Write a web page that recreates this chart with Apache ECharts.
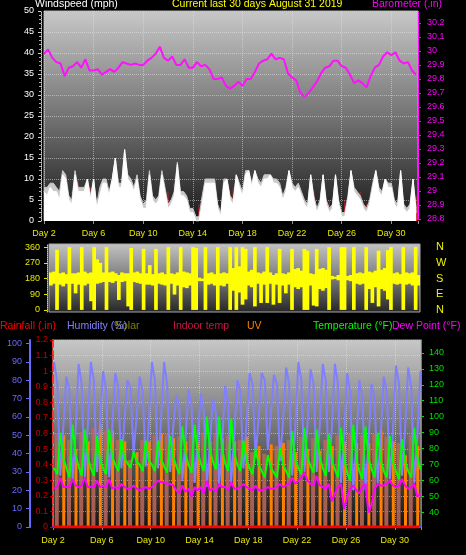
<!DOCTYPE html>
<html>
<head>
<meta charset="utf-8">
<script src="https://cdn.jsdelivr.net/npm/echarts@6/dist/echarts.min.js"></script>
<style>
html, body { margin: 0; padding: 0; background: #000; }
#main { width: 466px; height: 555px; }
</style>
</head>
<body>
<div id="main"></div>
<script>
// wind speed, mph, one sample every 6 hours from Day 2
var windGust = [8, 8, 9, 9, 8, 7, 12, 11, 6, 5,
    12, 8, 8, 8, 10, 6, 10, 4, 8, 10,
    10, 7, 10, 15, 9, 9, 17, 11, 10, 8,
    11, 6, 4, 5, 12, 6, 5, 6, 12, 8,
    4, 5, 7, 14, 7, 7, 6, 3, 3, 1,
    1, 6, 10, 10, 10, 10, 4, 2, 10, 10,
    6, 5, 11, 9, 7, 12, 12, 9, 12, 10,
    9, 11, 11, 11, 10, 10, 9, 6, 8, 12,
    9, 8, 9, 7, 5, 4, 11, 6, 3, 5,
    11, 5, 3, 4, 11, 5, 2, 2, 6, 12,
    8, 7, 6, 4, 3, 5, 9, 12, 8, 7,
    10, 9, 9, 5, 4, 12, 4, 3, 4, 10, 3];
var windSpeed = [7, 6, 8, 7, 7, 5, 11, 10, 5, 4,
    11, 7, 7, 7, 10, 5, 10, 3, 6, 9,
    9, 6, 10, 15, 8, 8, 17, 10, 9, 7,
    10, 5, 3, 3, 11, 5, 4, 5, 11, 7,
    3, 4, 6, 13.5, 6, 6, 5, 2, 2, 0,
    0, 4, 9, 9, 9, 9, 3, 1, 9, 10,
    5, 4, 11, 8, 6, 11, 12, 8, 12, 9,
    8, 10, 10, 11, 9, 9, 8, 5, 7, 12,
    8, 7, 8, 6, 4, 3, 11, 5, 2, 4,
    11, 4, 2, 3, 11, 4, 1, 1, 5, 12,
    7, 6, 5, 3, 2, 4, 8, 12, 7, 6,
    10, 8, 8, 4, 3, 12, 3, 2, 3, 10, 2];
var windLow = [3, 0, 5, 0, 0, 7, 4, 0, 0, 7,
    0, 9, 0, 0, 5, 8, 0, 0, 0, 4,
    7, 0, 0, 8, 5, 0, 0, 7, 0, 3,
    0, 0, 0, 0, 10, 0, 6, 0, 5, 0,
    7, 0, 9, 0, 3, 0, 0, 0, 0, 0,
    4, 0, 0, 6, 0, 7, 0, 0, 6, 0,
    0, 8, 0, 0, 3, 0, 0, 6, 0, 0,
    0, 7, 8, 10, 0, 5, 0, 0, 8, 0,
    0, 0, 0, 6, 0, 0, 0, 7, 0, 0,
    0, 0, 5, 0, 6, 0, 0, 5, 0, 9,
    4, 0, 7, 0, 4, 0, 0, 6, 0, 5,
    0, 0, 7, 0, 0, 5, 0, 3, 0, 0, 6];
// barometer, inches, one sample every 8 hours from Day 2
var barometer = [29.98, 30.01, 29.95, 29.92, 29.91, 29.82, 29.88, 29.89, 29.92, 29.88,
    29.94, 29.86, 29.86, 29.87, 29.83, 29.85, 29.87, 29.85, 29.88, 29.92,
    29.91, 29.90, 29.91, 29.90, 29.90, 29.93, 29.95, 29.98, 30.03, 29.95,
    29.93, 29.96, 29.90, 29.90, 29.94, 29.88, 29.88, 29.92, 29.89, 29.90,
    29.87, 29.80, 29.80, 29.81, 29.75, 29.73, 29.75, 29.78, 29.75, 29.80,
    29.80, 29.85, 29.91, 29.93, 29.94, 29.98, 29.94, 29.95, 29.94, 29.84,
    29.81, 29.79, 29.70, 29.67, 29.70, 29.74, 29.78, 29.84, 29.88, 29.89,
    29.93, 29.93, 29.89, 29.88, 29.83, 29.77, 29.79, 29.77, 29.74, 29.82,
    29.88, 29.90, 29.96, 29.99, 29.97, 29.99, 29.93, 29.91, 29.92, 29.86, 29.83];
// wind direction, degrees, low and high of each 6 hour bin from Day 2
var dirLow = [140, 150, 0, 145, 135, 150, 0, 150, 95, 145,
    0, 140, 150, 50, 0, 150, 155, 160, 0, 160,
    155, 165, 57, 160, 165, 20, 0, 160, 155, 150,
    0, 145, 145, 140, 0, 150, 145, 140, 0, 150,
    88, 140, 0, 130, 125, 140, 0, 0, 165, 165,
    0, 145, 150, 140, 0, 140, 135, 150, 0, 110,
    0, 100, 30, 60, 140, 130, 20, 150, 40, 145,
    40, 150, 30, 145, 40, 140, 95, 145, 0, 130,
    120, 130, 0, 0, 140, 25, 20, 120, 110, 125,
    0, 175, 178, 170, 0, 0, 170, 165, 0, 150,
    145, 150, 0, 120, 40, 130, 20, 120, 110, 60,
    0, 150, 145, 150, 0, 145, 150, 140, 0, 140];
var dirHigh = [215, 220, 345, 210, 215, 205, 360, 210, 210, 215,
    360, 220, 210, 215, 360, 290, 270, 215, 360, 215,
    220, 210, 200, 215, 210, 210, 355, 215, 220, 210,
    350, 210, 257, 205, 350, 210, 215, 205, 360, 210,
    205, 215, 360, 220, 215, 210, 360, 355, 185, 180,
    360, 210, 215, 205, 360, 210, 215, 210, 360, 240,
    360, 250, 360, 350, 220, 230, 360, 215, 210, 220,
    360, 215, 200, 210, 350, 210, 205, 215, 350, 235,
    240, 225, 350, 340, 210, 205, 350, 235, 240, 230,
    360, 195, 190, 200, 360, 360, 195, 200, 360, 210,
    215, 210, 360, 220, 215, 225, 340, 230, 240, 343,
    360, 210, 215, 205, 360, 215, 210, 215, 360, 200];
// lower panel, one sample every 6 hours from Day 2.1
var humidity = [90, 78, 28, 55, 82, 74, 25, 52, 89, 78, 27, 55, 90, 80, 30, 56,
    85, 75, 27, 54, 84, 76, 32, 58, 80, 76, 40, 60, 82, 74, 33, 57,
    90, 80, 32, 58, 90, 78, 30, 55, 72, 65, 25, 48, 75, 66, 24, 47,
    73, 64, 22, 45, 70, 62, 22, 45, 77, 68, 24, 50, 80, 74, 32, 56,
    84, 78, 38, 60, 84, 80, 42, 62, 83, 78, 36, 58, 87, 78, 28, 54,
    90, 80, 30, 56, 86, 78, 30, 55, 89, 80, 30, 55, 89, 78, 24, 50,
    84, 74, 20, 46, 80, 70, 20, 46, 78, 70, 24, 50, 82, 74, 26, 52,
    88, 78, 28, 54, 87, 76, 24, 50, 85];
var temperature = [68, 64, 90, 74, 68, 62, 95, 76, 69, 63, 92, 75, 68, 63, 88, 73,
    68, 64, 92, 75, 70, 66, 86, 74, 71, 68, 78, 72, 70, 66, 85, 73,
    70, 66, 85, 74, 69, 65, 88, 75, 69, 64, 94, 77, 70, 65, 95, 78,
    71, 66, 100, 80, 72, 67, 100, 80, 71, 66, 99, 78, 70, 66, 85, 73,
    68, 64, 80, 70, 66, 62, 76, 68, 65, 62, 81, 70, 66, 62, 91, 73,
    68, 64, 93, 75, 69, 65, 92, 75, 68, 63, 89, 73, 67, 62, 93, 74,
    65, 60, 95, 74, 66, 61, 94, 74, 67, 62, 90, 73, 66, 62, 88, 72,
    66, 61, 86, 72, 66, 62, 93, 75, 67];
var dewPoint = [55, 56, 62, 56, 56, 56, 61, 57, 56, 57, 62, 56, 56, 56, 60, 56,
    57, 56, 61, 55, 56, 55, 58, 56, 55, 55, 57, 55, 54, 55, 56, 55,
    56, 58, 60, 59, 59, 58, 58, 57, 54, 52, 57, 53, 55, 50, 56, 54,
    56, 52, 60, 54, 55, 53, 58, 56, 56, 54, 59, 55, 55, 56, 58, 56,
    55, 54, 57, 54, 54, 55, 56, 55, 55, 56, 58, 56, 57, 58, 62, 58,
    60, 62, 65, 60, 58, 57, 63, 57, 56, 55, 58, 47, 52, 56, 58, 42,
    50, 55, 57, 54, 52, 56, 58, 40, 45, 55, 58, 57, 57, 58, 60, 57,
    56, 57, 61, 57, 55, 56, 58, 50, 52];
// daily peaks, Day 2 to Day 31
var solar = [600, 560, 610, 640, 620, 560, 430, 560, 590, 600,
    580, 590, 600, 600, 590, 560, 480, 470, 520, 560,
    580, 570, 560, 590, 600, 590, 600, 580, 540, 590];
var uv = [5.9, 5.0, 5.5, 6.6, 6.2, 5.5, 4.8, 5.5, 6.0, 5.7,
    5.5, 5.5, 5.5, 5.7, 5.5, 5.8, 5.2, 5.3, 5.4, 4.8,
    5.0, 4.9, 5.2, 5.5, 5.4, 5.4, 6.2, 5.5, 4.6, 5.2];
var rainfall = [0, 0, 0, 0, 0, 0, 0, 0, 0, 0, 0, 0, 0, 0, 0, 0,
    0, 0, 0, 0, 0, 0, 0, 0, 0, 0, 0, 0, 0, 0, 0];
// tick labels
var baroTicks = [28.8, 28.9, 29, 29.1, 29.2, 29.3, 29.4, 29.5, 29.6, 29.7, 29.8, 29.9, 30, 30.1, 30.2];
var dirTicks = [0, 90, 180, 270, 360];
var dirNames = ['N', 'E', 'S', 'W', 'N'];
var humTicks = [0, 10, 20, 30, 40, 50, 60, 70, 80, 90, 100];
var tempTicks = [40, 50, 60, 70, 80, 90, 100, 110, 120, 130, 140];

var FONT = '"Liberation Sans", Arial, sans-serif';
var TITLE_FONT = '10.5px ' + FONT;

function timed(arr, start, step) {
    var out = [];
    for (var i = 0; i < arr.length; i++) {
        out.push([start + i * step, arr[i]]);
    }
    return out;
}
function grad(c0, c1, c2) {
    return {
        type: 'linear', x: 0, y: 0, x2: 0, y2: 1,
        colorStops: [{ offset: 0, color: c0 }, { offset: 0.5, color: c1 }, { offset: 1, color: c2 }]
    };
}
function dayLabel(v) {
    return (Math.abs((v - 2) % 4) < 0.001) ? 'Day ' + v : '';
}
function label(text, left, top, color) {
    return { type: 'text', left: left, top: top, style: { text: text, fill: color, font: TITLE_FONT } };
}

// each bin: start day, end day, low, high
var dirData = [];
for (var i = 0; i < dirLow.length; i++) {
    dirData.push([2 + i * 0.25, 2.25 + i * 0.25, dirLow[i], dirHigh[i]]);
}
function renderDir(params, api) {
    var p0 = api.coord([api.value(0), api.value(3)]);
    var p1 = api.coord([api.value(1), api.value(2)]);
    return {
        type: 'rect',
        shape: { x: p0[0], y: p0[1], width: p1[0] - p0[0] + 0.6, height: p1[1] - p0[1] },
        style: { fill: '#ffff00' }
    };
}

var gridSplit = { show: true, lineStyle: { color: 'rgba(225,225,225,0.55)', type: 'dotted', width: 1 } };

var myChart = echarts.init(document.getElementById('main'));
var option = {
    backgroundColor: '#000',
    animation: false,
    textStyle: { fontFamily: FONT },
    grid: [
        { left: 44, right: 48, top: 11, height: 210, show: true, borderColor: '#a8a8a8', borderWidth: 1,
          backgroundColor: grad('#c8c8c8', '#747474', '#181818') },
        { left: 49, right: 46, top: 244, height: 68, show: true, borderColor: '#a8a8a8', borderWidth: 1,
          backgroundColor: grad('#c4c4c4', '#7a7a7a', '#262626') },
        { left: 53, right: 45, top: 340, height: 187, show: true, borderColor: '#a8a8a8', borderWidth: 1,
          backgroundColor: grad('#c8c8c8', '#707070', '#121212') }
    ],
    xAxis: [
        { type: 'value', gridIndex: 0, min: 2, max: 32.15, interval: 4,
          axisLine: { lineStyle: { color: '#000', width: 2 } },
          axisTick: { lineStyle: { color: '#909090' }, length: 3 },
          axisLabel: { formatter: dayLabel, color: '#e8e800', fontSize: 9, margin: 8, fontFamily: FONT },
          splitLine: gridSplit },
        { type: 'value', gridIndex: 1, min: 2, max: 32, show: false },
        { type: 'value', gridIndex: 2, min: 2, max: 32.15, interval: 4,
          axisLine: { lineStyle: { color: '#4848ff', width: 2 } },
          axisTick: { lineStyle: { color: '#909090' }, length: 3 },
          axisLabel: { formatter: dayLabel, color: '#e8e800', fontSize: 9, margin: 9, fontFamily: FONT },
          splitLine: gridSplit }
    ],
    yAxis: [
        { type: 'value', gridIndex: 0, position: 'left', min: 0, max: 50, interval: 5, offset: 3,
          axisLine: { show: true, lineStyle: { color: '#d0d0d0', type: 'dotted' } },
          axisTick: { show: true, length: 3, lineStyle: { color: '#d0d0d0' } },
          minorTick: { show: true, splitNumber: 5, length: 2, lineStyle: { color: '#b0b0b0' } },
          axisLabel: { color: '#ffffff', fontSize: 9, margin: 7, fontFamily: FONT },
          splitLine: gridSplit },
        { type: 'value', gridIndex: 0, position: 'right', min: 28.785, max: 30.285,
          axisLine: { show: true, lineStyle: { color: '#ff00ff', type: 'dotted' } },
          axisTick: { show: true, length: 3, customValues: baroTicks, lineStyle: { color: '#ff00ff' } },
          axisLabel: { color: '#ff00ff', fontSize: 9, margin: 9, customValues: baroTicks, fontFamily: FONT },
          splitLine: { show: false } },
        { type: 'value', gridIndex: 1, position: 'left', min: -12, max: 378, offset: 2,
          axisLine: { show: true, lineStyle: { color: '#e8e800', type: 'dotted' } },
          axisTick: { show: true, length: 3, customValues: dirTicks, lineStyle: { color: '#e8e800' } },
          axisLabel: { color: '#e8e800', fontSize: 9, margin: 7, customValues: dirTicks, fontFamily: FONT },
          splitLine: { show: false } },
        { type: 'value', gridIndex: 1, position: 'right', min: -12, max: 378,
          axisLine: { show: false }, axisTick: { show: false },
          axisLabel: { color: '#f0f000', fontSize: 11, margin: 16, customValues: dirTicks, fontFamily: FONT,
                       formatter: function (v) { return dirNames[Math.round(v / 90)]; } },
          splitLine: { show: false } },
        { type: 'value', gridIndex: 2, position: 'left', min: 0, max: 102, offset: 23,
          axisLine: { show: true, lineStyle: { color: '#6a6aff', width: 2 } },
          axisTick: { show: true, length: 4, customValues: humTicks, lineStyle: { color: '#6a6aff' } },
          axisLabel: { color: '#6a6aff', fontSize: 9, margin: 8, customValues: humTicks, fontFamily: FONT },
          splitLine: { show: false } },
        { type: 'value', gridIndex: 2, position: 'left', min: 0, max: 1.2, interval: 0.1,
          axisLine: { show: true, lineStyle: { color: '#ff3030', type: 'dashed', width: 2 } },
          axisTick: { show: true, length: 3, lineStyle: { color: '#c80000' } },
          axisLabel: { color: '#c80000', fontSize: 9, margin: 5, fontFamily: FONT },
          splitLine: gridSplit },
        { type: 'value', gridIndex: 2, position: 'right', min: 31, max: 148,
          axisLine: { show: true, lineStyle: { color: '#00e000', type: 'dotted' } },
          axisTick: { show: true, length: 3, customValues: tempTicks, lineStyle: { color: '#00e000' } },
          axisLabel: { color: '#00e000', fontSize: 9, margin: 8, customValues: tempTicks, fontFamily: FONT },
          splitLine: { show: false } },
        { type: 'value', gridIndex: 2, min: 0, max: 12, show: false },
        { type: 'value', gridIndex: 2, min: 0, max: 1200, show: false }
    ],
    graphic: [
        label('Windspeed (mph)', 35, -1, '#ffffff'),
        label('Current last 30 days August 31 2019', 172, -1, '#ffff00'),
        label('Barometer (.in)', 372, -1, '#ff00ff'),
        label('Rainfall (.in)', 0, 321, '#ff0000'),
        label('Solar', 115, 321, '#808000'),
        label('Humidity (%)', 67, 321, '#8080ff'),
        label('Indoor temp', 173, 321, '#c01848'),
        label('UV', 247, 321, '#ff8000'),
        label('Temperature (°F)', 313, 321, '#00ff00'),
        label('Dew Point (°F)', 392, 321, '#ff00ff')
    ],
    series: [
        { name: 'Gust', type: 'line', xAxisIndex: 0, yAxisIndex: 0, data: timed(windGust, 2, 0.25),
          symbol: 'none', lineStyle: { color: '#cacaca', width: 1 }, areaStyle: { color: '#cacaca', opacity: 1 } },
        { name: 'Wind', type: 'line', xAxisIndex: 0, yAxisIndex: 0, data: timed(windSpeed, 2, 0.25),
          symbol: 'none', lineStyle: { color: '#ffffff', width: 1 }, areaStyle: { color: '#ffffff', opacity: 1 } },
        { name: 'Lull', type: 'bar', xAxisIndex: 0, yAxisIndex: 0, data: timed(windLow, 2, 0.25), barWidth: 1.5,
          itemStyle: { color: { type: 'linear', x: 0, y: 1, x2: 0, y2: 0,
              colorStops: [{ offset: 0, color: '#ff0000' }, { offset: 1, color: 'rgba(255,40,40,0.35)' }] } } },
        { name: 'Barometer', type: 'line', xAxisIndex: 0, yAxisIndex: 1, data: timed(barometer, 2, 1 / 3),
          symbol: 'none', lineStyle: { color: '#ff10ff', width: 2 } },
        { name: 'Direction', type: 'custom', xAxisIndex: 1, yAxisIndex: 2, data: dirData,
          encode: { x: [0, 1], y: [2, 3] }, renderItem: renderDir, clip: true },
        { name: 'Solar', type: 'bar', xAxisIndex: 2, yAxisIndex: 8, data: timed(solar, 2.45, 1), barWidth: 4,
          itemStyle: { color: 'rgba(190,105,90,0.85)' } },
        { name: 'UV', type: 'bar', xAxisIndex: 2, yAxisIndex: 7, data: timed(uv, 2.7, 1), barWidth: 3,
          itemStyle: { color: '#ff8000' } },
        { name: 'Humidity', type: 'line', xAxisIndex: 2, yAxisIndex: 4, data: timed(humidity, 2.1, 0.25),
          symbol: 'none', lineStyle: { color: '#8080ff', width: 2 } },
        { name: 'Temperature', type: 'line', xAxisIndex: 2, yAxisIndex: 6, data: timed(temperature, 2.1, 0.25),
          symbol: 'none', lineStyle: { color: '#00ff00', width: 2 } },
        { name: 'Dew Point', type: 'line', xAxisIndex: 2, yAxisIndex: 6, data: timed(dewPoint, 2.1, 0.25),
          symbol: 'none', lineStyle: { color: '#ff00ff', width: 2 } },
        { name: 'Rainfall', type: 'line', xAxisIndex: 2, yAxisIndex: 5, data: timed(rainfall, 2, 1),
          symbol: 'none', lineStyle: { color: '#ff0000', width: 3 } }
    ]
};
myChart.setOption(option);
</script>
</body>
</html>
